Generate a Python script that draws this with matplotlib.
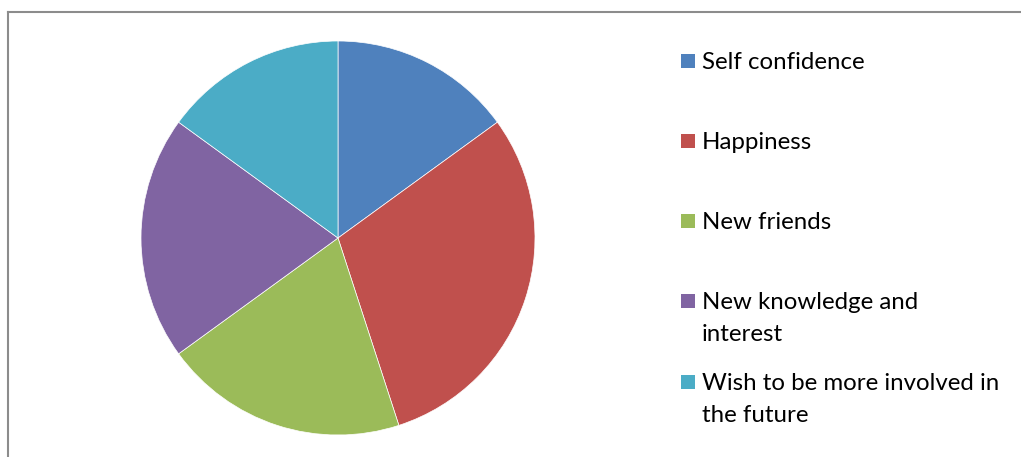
import matplotlib
matplotlib.use("Agg")
import matplotlib.pyplot as plt
from matplotlib.patches import Rectangle
from matplotlib.lines import Line2D

# Data
labels = ["Self confidence", "Happiness", "New friends",
          "New knowledge and\ninterest", "Wish to be more involved in\nthe future"]
values = [15, 30, 20, 20, 15]
colors = ["#4F81BD", "#C0504D", "#9BBB59", "#8064A2", "#4BACC6"]

W, H = 1021, 457
fig = plt.figure(figsize=(W / 100, H / 100), dpi=100)
plt.rcParams['font.family'] = ['Lato', 'DejaVu Sans']

# chart area border (top and left visible)
fig.add_artist(Line2D([8 / W, 8 / W], [0, 1 - 12 / H], transform=fig.transFigure,
                      color="#8c8c8c", lw=1.5))
fig.add_artist(Line2D([8 / W, 1], [1 - 12 / H, 1 - 12 / H], transform=fig.transFigure,
                      color="#8c8c8c", lw=1.5))

# pie: centre (338, 238), radius 197 px
cx, cy, r = 338, 238, 197
ax = fig.add_axes([(cx - r) / W, 1 - (cy + r) / H, 2 * r / W, 2 * r / H])
ax.pie(values, colors=colors, startangle=90, counterclock=False,
       wedgeprops=dict(edgecolor="white", linewidth=0.5))
ax.set_aspect("equal")
ax.set_xlim(-1, 1)
ax.set_ylim(-1, 1)
ax.axis("off")

# legend drawn by hand to match the spacing
fs = 17.3
baselines = [69, 149, 229, 309, 390]
for lab, col, base in zip(labels, colors, baselines):
    fig.add_artist(Rectangle((681 / W, 1 - (base - 1) / H), 14 / W, 14 / H,
                             transform=fig.transFigure, facecolor=col, edgecolor="none"))
    fig.text(702 / W, 1 - base / H, lab.split("\n")[0], fontsize=fs, va="baseline",
             ha="left", color="#000000")
    if "\n" in lab:
        fig.text(702 / W, 1 - (base + 32) / H, lab.split("\n")[1], fontsize=fs,
                 va="baseline", ha="left", color="#000000")

fig.savefig("out.png", dpi=100)
